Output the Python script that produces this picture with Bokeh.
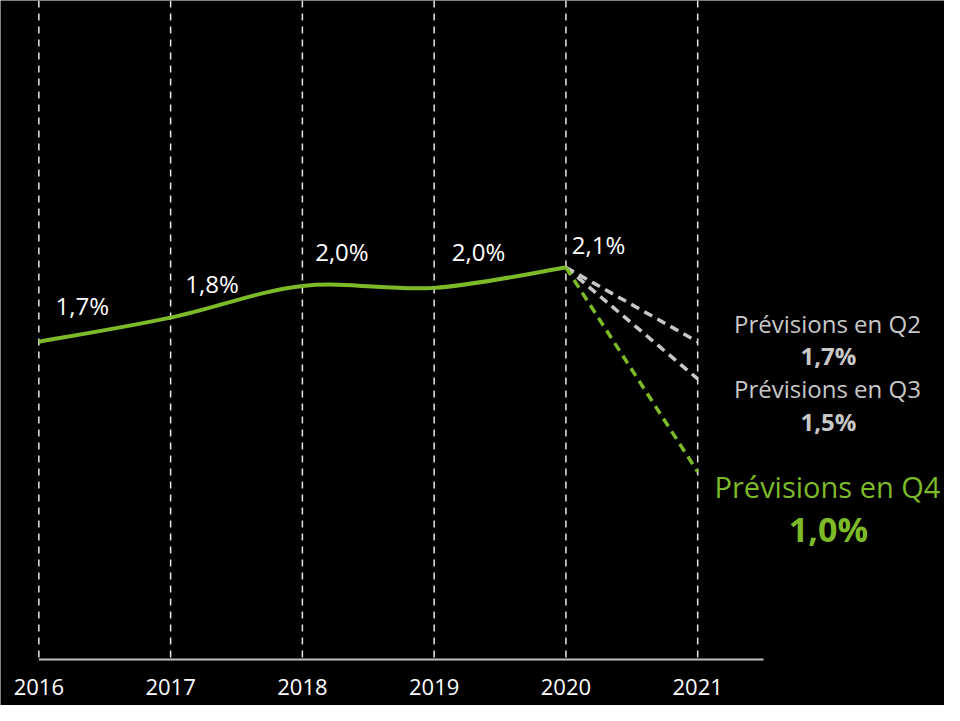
from bokeh.plotting import figure
from bokeh.models import Range1d
from bokeh.core.properties import value
from bokeh.embed import file_html
from bokeh.resources import INLINE

# ---- data ----
years = [2016, 2017, 2018, 2019, 2020]
growth = [1.7, 1.83, 2.0, 1.99, 2.1]
growth_labels = ["1,7%", "1,8%", "2,0%", "2,0%", "2,1%"]
all_years = [2016, 2017, 2018, 2019, 2020, 2021]
year_labels = ["2016", "2017", "2018", "2019", "2020", "2021"]
forecast_year = 2021
forecast_names = ["Prévisions en Q2", "Prévisions en Q3", "Prévisions en Q4"]
forecast_values = [1.7, 1.5, 1.0]
forecast_labels = ["1,7%", "1,5%", "1,0%"]

GREEN = "#7dba28"
GREY = "#c8c8c8"
FONT = value("Open Sans")

W, H = 944, 705
SX, SY = W / 960, H / 721
PX_X = 134.0 * SX   # px per year
PX_Y = 190.0 * SY   # px per percentage point
x0 = 2016 - 39 * SX / PX_X
y0 = -(H - 672 * SY) / PX_Y

p = figure(width=W, height=H, output_backend="svg", toolbar_location=None,
           x_axis_type=None, y_axis_type=None, min_border=0,
           x_range=Range1d(x0, x0 + W / PX_X),
           y_range=Range1d(y0, y0 + H / PX_Y))
p.background_fill_color = "black"
p.border_fill_color = "black"
p.outline_line_color = None
p.grid.visible = False

# vertical dashed year lines
top = y0 + H / PX_Y
p.segment(x0=all_years, y0=[0] * len(all_years), x1=all_years, y1=[top] * len(all_years),
          line_color="#e6e6e6", line_width=1.5, line_dash="7 6")

# baseline
p.segment(x0=[all_years[0]], y0=[-0.01], x1=[all_years[-1] + 0.5], y1=[-0.01],
          line_color="#bfbfbf", line_width=2)

# year labels
p.text(x=all_years, y=[0] * len(all_years), text=year_labels,
       text_font=FONT, text_font_size="22px", text_color="white",
       text_align="center", text_baseline="middle", y_offset=686 - 672 * SY)

# forecast dashed lines
fc_colors = [GREY, GREY, GREEN]
for v, c in zip(forecast_values, fc_colors):
    p.line([years[-1], forecast_year], [growth[-1], v], line_color=c,
           line_width=3.5, line_dash="9 6")

# smooth historical curve (Catmull-Rom through data points -> cubic Bezier)
n = len(years)
bx0, by0, bx1, by1, cx0, cy0, cx1, cy1 = [], [], [], [], [], [], [], []
for i in range(n - 1):
    pm = (years[max(i - 1, 0)], growth[max(i - 1, 0)])
    p0 = (years[i], growth[i])
    p1 = (years[i + 1], growth[i + 1])
    p2 = (years[min(i + 2, n - 1)], growth[min(i + 2, n - 1)])
    bx0.append(p0[0]); by0.append(p0[1]); bx1.append(p1[0]); by1.append(p1[1])
    cx0.append(p0[0] + (p1[0] - pm[0]) / 6); cy0.append(p0[1] + (p1[1] - pm[1]) / 6)
    cx1.append(p1[0] - (p2[0] - p0[0]) / 6); cy1.append(p1[1] - (p2[1] - p0[1]) / 6)
p.bezier(x0=bx0, y0=by0, x1=bx1, y1=by1, cx0=cx0, cy0=cy0, cx1=cx1, cy1=cy1,
         line_color=GREEN, line_width=4)

# data labels
lab_dx = [17, 15, 13, 18, 6]
lab_dy = [-37, -35, -35, -37, -23]
for x, y, t, dx, dy in zip(years, growth, growth_labels, lab_dx, lab_dy):
    p.text(x=[x], y=[y], text=[t], text_font=FONT, text_font_size="24px",
           text_color="white", text_align="left", text_baseline="middle",
           x_offset=dx * SX, y_offset=dy * SY)

# forecast labels
name_dy = [-19, 10, 15.5]
val_dy = [14, 44, 58]
name_sizes = ["24px", "24px", "29px"]
val_sizes = ["24px", "24px", "34px"]
name_colors = [GREY, GREY, GREEN]
for nm, v, lb, ndy, vdy, ns, vs, c in zip(forecast_names, forecast_values, forecast_labels,
                                          name_dy, val_dy, name_sizes, val_sizes, name_colors):
    p.text(x=[forecast_year], y=[v], text=[nm], text_font=FONT, text_font_size=ns,
           text_color=c, text_align="center", text_baseline="middle",
           x_offset=132 * SX, y_offset=ndy * SY)
    p.text(x=[forecast_year], y=[v], text=[lb], text_font=FONT, text_font_size=vs,
           text_font_style="bold", text_color=c, text_align="center",
           text_baseline="middle", x_offset=133 * SX, y_offset=vdy * SY)

open("out.html", "w").write(file_html(p, INLINE))
